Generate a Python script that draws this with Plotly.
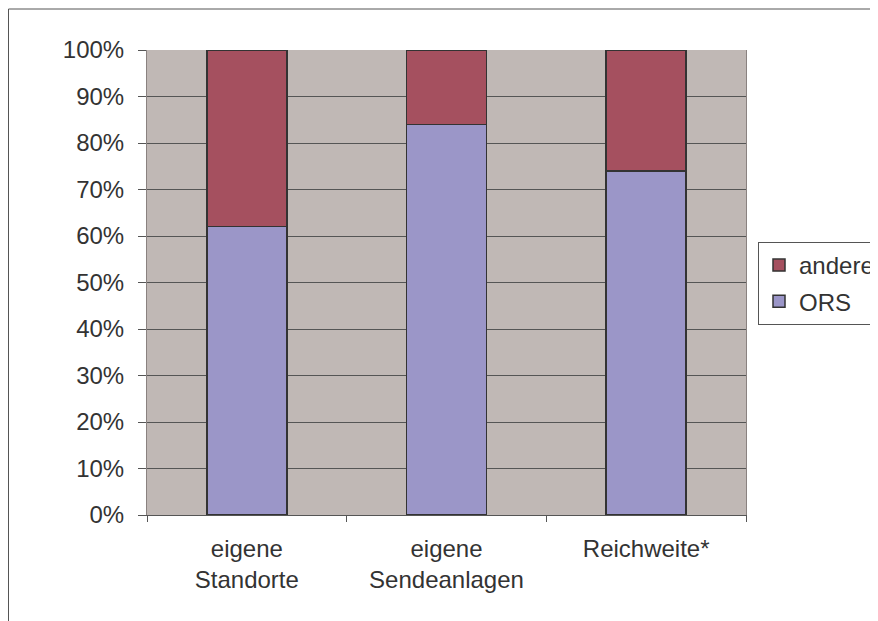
import plotly.graph_objects as go

categories = ["eigene<br>Standorte", "eigene<br>Sendeanlagen", "Reichweite*"]
ors_values = [62, 84, 74]
andere_values = [38, 16, 26]
y_tick_vals = [0, 10, 20, 30, 40, 50, 60, 70, 80, 90, 100]
y_tick_text = [f"{v}%" for v in y_tick_vals]

FONT = "Liberation Sans, Arial, sans-serif"
TXT = "#333333"
FS = 24

# page body has an 8px margin, so figure is laid out in body coordinates
W, H = 870, 613
L, T, R, B = 139, 42, 132, 106
PW, PH = W - L - R, H - T - B

fig = go.Figure()
fig.add_trace(go.Bar(
    x=categories, y=ors_values, name="ORS", legendgroup="ors", legendrank=2,
    marker=dict(color="#9B96C8", line=dict(color="#333333", width=1.5)),
    width=0.4,
))
fig.add_trace(go.Bar(
    x=categories, y=andere_values, name="andere", legendgroup="andere", legendrank=1,
    marker=dict(color="#A5505F", line=dict(color="#333333", width=1.5)),
    width=0.4,
))

# outer chart border (extends beyond visible area on right/bottom)
fig.add_shape(type="rect", xref="paper", yref="paper",
              x0=(0.5 - L) / PW, x1=2.0, y0=-1.0, y1=(H - B - 1) / PH,
              line=dict(color="#555555", width=1), fillcolor="rgba(0,0,0,0)", layer="below")

fig.update_layout(
    width=W, height=H,
    margin=dict(l=L, r=R, t=T, b=B, autoexpand=False),
    barmode="stack",
    paper_bgcolor="white",
    plot_bgcolor="#C0B8B5",
    font=dict(family=FONT, size=FS, color=TXT),
    showlegend=True,
    legend=dict(
        x=(750 - L) / PW, y=(H - B - 234) / PH, xanchor="left", yanchor="top",
        bordercolor="#555555", borderwidth=1, bgcolor="white",
        traceorder="grouped", tracegroupgap=2,
        font=dict(family=FONT, size=FS, color=TXT),
    ),
)
fig.update_xaxes(
    type="category", tickson="boundaries", ticks="outside", ticklen=6,
    tickcolor="#555555", showline=True, linecolor="#555555", linewidth=1,
    showgrid=False, mirror=False, ticklabelstandoff=12,
    tickfont=dict(family=FONT, size=FS, color=TXT),
)
fig.update_yaxes(
    range=[0, 100], tickvals=y_tick_vals, ticktext=y_tick_text,
    ticks="outside", ticklen=8, tickcolor="#555555",
    showline=True, linecolor="#8A8280", linewidth=1, mirror=True,
    showgrid=True, gridcolor="#555555", gridwidth=1,
    zeroline=False, ticklabelstandoff=9,
    tickfont=dict(family=FONT, size=FS, color=TXT),
)

fig.write_html("out.html")
